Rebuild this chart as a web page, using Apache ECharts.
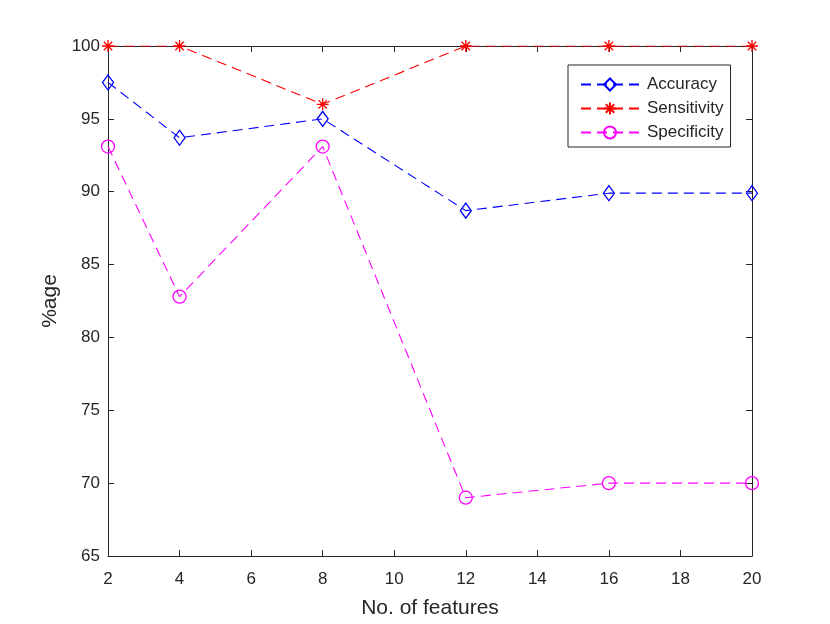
<!DOCTYPE html>
<html>
<head>
<meta charset="utf-8">
<script src="https://cdn.jsdelivr.net/npm/echarts@6/dist/echarts.min.js"></script>
<style>
html,body{margin:0;padding:0;background:#fff;}
#chart{width:830px;height:624px;}
</style>
</head>
<body>
<div id="chart"></div>
<script>
const features = [2, 4, 8, 12, 16, 20];
const accuracy = [97.5, 93.7, 95.0, 88.7, 89.9, 89.9];
const sensitivity = [100, 100, 96.0, 100, 100, 100];
const specificity = [93.1, 82.8, 93.1, 69.0, 70.0, 70.0];

const diamondPath = 'path://M5,0 L10,7 L5,14 L0,7 Z';
const starPath = 'path://M5,0 L5,10 M0,5 L10,5 M1.5,1.5 L8.5,8.5 M1.5,8.5 L8.5,1.5';
const circlePath = 'path://M10,5 A5,5 0 1 1 0,5 A5,5 0 1 1 10,5 Z';

function pairs(vals){ return features.map((x,i)=>[x, vals[i]]); }

const font = 'Liberation Sans, Arial, sans-serif';
const axisCommon = {
  axisLine:{show:true, lineStyle:{color:'#262626', width:1}},
  axisTick:{show:true, inside:true, length:6, lineStyle:{color:'#262626'}},
  splitLine:{show:false}
};

function mkSeries(name, vals, color, symbol, size){
  return {
    name: name, type:'line', data: pairs(vals),
    symbol: symbol, symbolSize: size,
    lineStyle:{color:color, width:1.1, type:[10,6]},
    itemStyle:{color:'rgba(0,0,0,0)', borderColor:color, borderWidth:1.3},
    emphasis:{disabled:true},
    animation:false
  };
}

const chart = echarts.init(document.getElementById('chart'));
chart.setOption({
  backgroundColor:'#fff',
  animation:false,
  grid:{left:108, right:78, top:46, bottom:68},
  legend:{
    orient:'vertical', left:568, top:65,
    backgroundColor:'#fff', borderColor:'#262626', borderWidth:1,
    padding:[11,7,6,12], itemGap:7, itemWidth:58, itemHeight:15,
    textStyle:{fontFamily:font, fontSize:17, color:'#262626', padding:[0,0,0,3]},
    data:['Accuracy','Sensitivity','Specificity']
  },
  xAxis:[
    Object.assign({type:'value', min:2, max:20, interval:2, position:'bottom',
      name:'No. of features', nameLocation:'middle', nameGap:42,
      nameTextStyle:{fontFamily:font, fontSize:21, color:'#262626'},
      axisLabel:{fontFamily:font, fontSize:17, color:'#262626', margin:15}}, axisCommon),
    Object.assign({type:'value', min:2, max:20, interval:2, position:'top',
      axisLabel:{show:false}}, axisCommon)
  ],
  yAxis:[
    Object.assign({type:'value', min:65, max:100, interval:5, position:'left',
      name:'%age', nameLocation:'middle', nameGap:45, nameRotate:90,
      nameTextStyle:{fontFamily:font, fontSize:21, color:'#262626'},
      axisLabel:{fontFamily:font, fontSize:17, color:'#262626', margin:8}}, axisCommon),
    Object.assign({type:'value', min:65, max:100, interval:5, position:'right',
      axisLabel:{show:false}}, axisCommon)
  ],
  series:[
    mkSeries('Accuracy', accuracy, '#0000ff', diamondPath, [11,15]),
    mkSeries('Sensitivity', sensitivity, '#ff0000', starPath, 12),
    mkSeries('Specificity', specificity, '#ff00ff', circlePath, 13)
  ]
});
</script>
</body>
</html>
